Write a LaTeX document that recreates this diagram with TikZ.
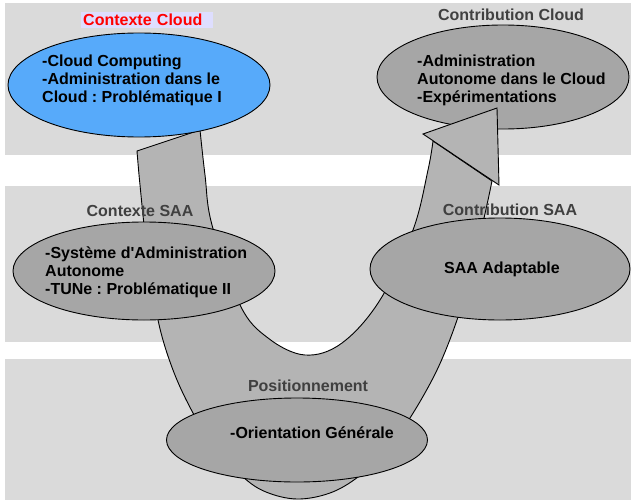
\documentclass[tikz,border=0pt]{standalone}
\usepackage{fontspec}
\setmainfont{Liberation Sans}
\usetikzlibrary{shapes.geometric}
\definecolor{bandgray}{RGB}{218,218,218}
\definecolor{arrowgray}{RGB}{180,180,180}
\definecolor{ellgray}{RGB}{166,166,166}
\definecolor{cloudblue}{RGB}{87,170,250}
\definecolor{lavender}{RGB}{222,222,255}
\definecolor{labgray}{RGB}{64,64,64}
\frenchspacing
\begin{document}
\begin{tikzpicture}[x=1pt,y=-1pt,
  band/.style={fill=bandgray,draw=none},
  ell/.style={ellipse,draw=black,line width=0.9pt,inner sep=0pt},
  grayell/.style={ell,fill=ellgray},
  arrowst/.style={fill=arrowgray,draw=black,line width=0.9pt,line join=miter},
  txt/.style={font=\bfseries\fontsize{16}{18}\selectfont,align=left,inner sep=0pt},
  lab/.style={font=\bfseries\fontsize{16}{18}\selectfont,text=labgray,inner sep=0pt}]
\useasboundingbox (0,0) rectangle (631,500);
\fill[white] (0,0) rectangle (631,500);
% bands
\fill[band] (5,3) rectangle (631,155);
\fill[band] (5,186) rectangle (631,342);
\fill[band] (5,359) rectangle (631,500);
% top right ellipse (under the arrow head)
\node[grayell,minimum width=252pt,minimum height=104pt] (cc) at (503,77) {};
% big U arrow body
\filldraw[arrowst] (137,151) -- (200,130) -- plot[smooth,tension=0.6] coordinates {(200,130) (205,175) (212,225) (240,305) (268,338) (305,355) (342,343) (380,300) (413,230) (428,170) (433,141)} -- (492,181) -- plot[smooth,tension=0.6] coordinates {(492,181) (484,218) (470,275) (457,320) (437,370) (410,418) (385,452) (358,477) (330,493) (297,499) (266,492) (243,477) (215,448) (193,413) (173,370) (158,320) (147,250) (140,185) (137,151)} -- cycle;
% arrow head
\coordinate (hl) at (423,134);
\coordinate (ht) at (497,108);
\coordinate (hr) at (499,185);
\filldraw[arrowst] (hl) -- (ht) -- (hr) -- cycle;
% other ellipses
\node[ell,fill=cloudblue,minimum width=262pt,minimum height=104pt] (ctx) at (139,85) {};
\node[grayell,minimum width=262pt,minimum height=98pt] (saa) at (144,271) {};
\node[grayell,minimum width=260pt,minimum height=102pt] (adapt) at (500,269) {};
\node[grayell,minimum width=261pt,minimum height=84pt] (pos) at (297,440) {};
% texts
\node[txt,anchor=west] (ctxt) at (42,80) {-Cloud Computing\\-Administration dans le\\Cloud : Problématique I};
\node[txt,anchor=west] (cct) at (417,80) {-Administration\\Autonome dans le Cloud\\-Expérimentations};
\node[txt,anchor=west] (saat) at (45,272) {-Système d\textquotesingle Administration\\Autonome\\-TUNe : Problématique II};
\node[txt] (adaptt) at (502,269) {SAA Adaptable};
\node[txt] (post) at (312,433) {-Orientation Générale};
% labels
\node[lab,text=red,fill=lavender,anchor=west,inner xsep=2pt,text width=128pt,minimum height=16pt] (lctx) at (81,20) {Contexte Cloud};
\node[lab] (lcc) at (511,15) {Contribution Cloud};
\node[lab] (lsaa) at (140,211) {Contexte SAA};
\node[lab] (ladapt) at (510,210) {Contribution SAA};
\node[lab] (lpos) at (308,386) {Positionnement};
\end{tikzpicture}
\end{document}
